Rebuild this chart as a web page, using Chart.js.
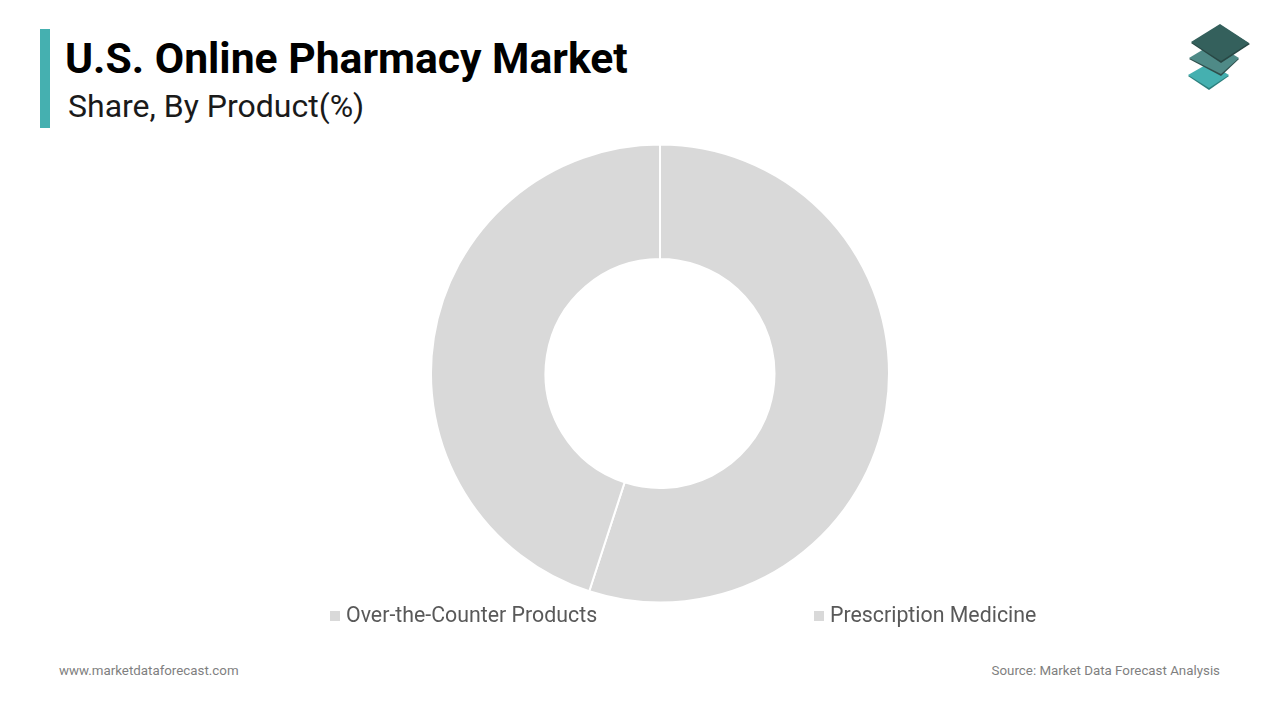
<!DOCTYPE html>
<html>
<head>
<meta charset="utf-8">
<title>U.S. Online Pharmacy Market</title>
<script src="https://cdn.jsdelivr.net/npm/chart.js@4"></script>
<style>
    html, body { margin: 0; padding: 0; background: #fff; }
    body { position: relative; width: 1280px; height: 720px; overflow: hidden; font-family: Roboto, sans-serif; }
    .abs { position: absolute; white-space: nowrap; }
    #bar { left: 40px; top: 29px; width: 10px; height: 99px; background: #45b0b0; }
    #title { left: 65px; top: 33px; font-size: 42.67px; line-height: 50px; font-weight: 700; color: #000; }
    #subtitle { left: 68px; top: 86px; font-size: 32px; line-height: 40px; color: #1a1a1a; }
    #chartBox { left: 430px; top: 143px; width: 460px; height: 461px; }
    .legendItem { top: 602px; font-size: 21.33px; line-height: 26px; color: #595959; }
    .legendBox { display: inline-block; width: 10px; height: 10px; margin-right: 6px; vertical-align: 1px; }
    .foot { top: 662px; font-size: 13.33px; line-height: 18px; color: #7f7f7f; }
    #logo { left: 1180px; top: 16px; }
</style>
</head>
<body>
<div id="bar" class="abs"></div>
<div id="title" class="abs">U.S. Online Pharmacy Market</div>
<div id="subtitle" class="abs">Share, By Product(%)</div>
<svg id="logo" class="abs" width="80" height="80" viewBox="1180 16 80 80">
    <polygon points="1209,64 1229,76 1209,90 1188,76" fill="#2c7f7d"/>
    <polygon points="1209,63 1229,75 1209,88 1188,75" fill="#45b0b0"/>
    <polygon points="1214,44 1239,59 1221,76 1189,59" fill="#2f4f4c"/>
    <polygon points="1214,43 1239,58 1221,74 1189,58" fill="#4f8a87"/>
    <polygon points="1220,25 1250,44 1221,63 1191,43" fill="#284744"/>
    <polygon points="1220,24 1249,43 1221,61 1191,42" fill="#34605c"/>
</svg>
<div id="chartBox" class="abs"><canvas id="chart"></canvas></div>
<div id="legend"></div>
<div class="abs foot" style="left:59px">www.marketdataforecast.com</div>
<div class="abs foot" style="right:60px">Source: Market Data Forecast Analysis</div>
<script>
const categories = ['Over-the-Counter Products', 'Prescription Medicine'];
const shares = [55, 45];
const sliceColors = ['#d9d9d9', '#d9d9d9'];
const legendLeft = [330, 814];

new Chart(document.getElementById('chart'), {
    type: 'doughnut',
    data: {
        labels: categories,
        datasets: [{
            data: shares,
            backgroundColor: sliceColors,
            borderColor: '#ffffff',
            borderWidth: 2
        }]
    },
    options: {
        responsive: true,
        maintainAspectRatio: false,
        devicePixelRatio: 1,
        animation: false,
        cutout: '50%',
        plugins: {
            legend: { display: false },
            tooltip: { enabled: false }
        }
    }
});

// la légende est placée à la main, les deux entrées sont très écartées
const legend = document.getElementById('legend');
categories.forEach((name, i) => {
    const item = document.createElement('div');
    item.className = 'abs legendItem';
    item.style.left = legendLeft[i] + 'px';
    item.innerHTML = '<span class="legendBox" style="background:' + sliceColors[i] + '"></span>' + name;
    legend.appendChild(item);
});
</script>
</body>
</html>
